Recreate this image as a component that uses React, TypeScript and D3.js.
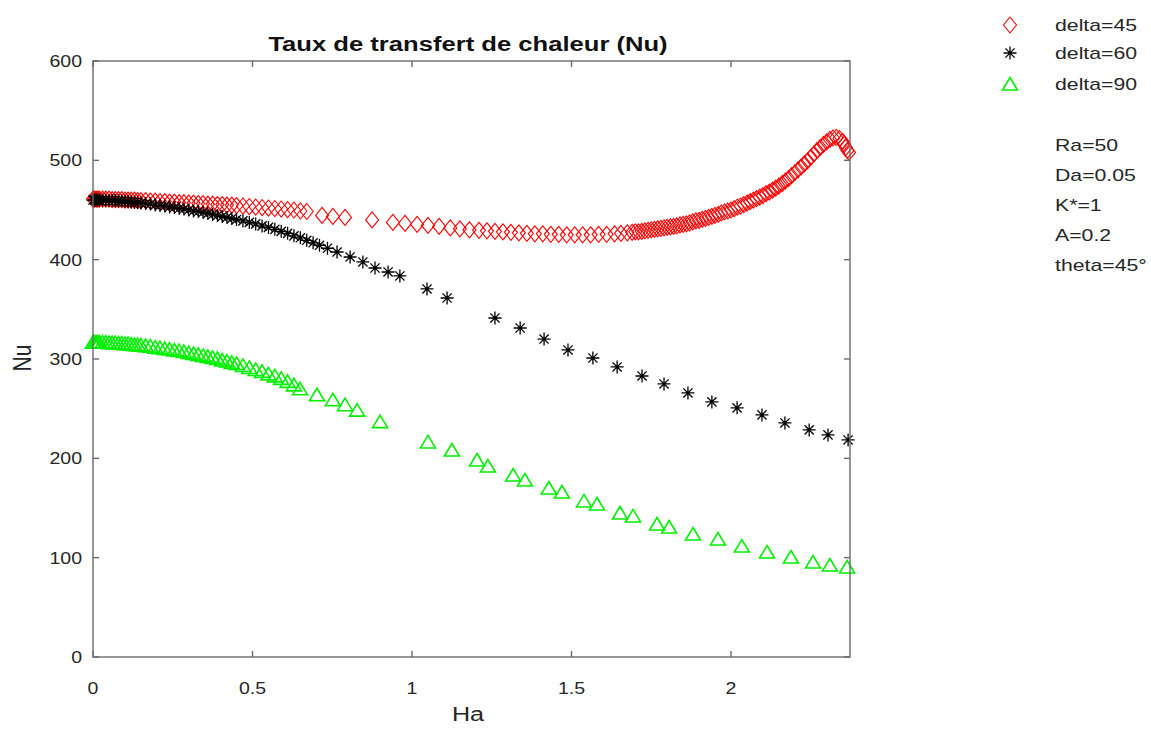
import React from "react";
import * as d3 from "d3";

// Nusselt number vs Hartmann number, three inclination angles
const delta45: [number, number][] = [
  [0, 461], [0.005, 461], [0.01, 461], [0.015, 461], [0.02, 461], [0.03, 461], [0.04, 461],
  [0.05, 461], [0.06, 460.5], [0.07, 460.5], [0.08, 460.5], [0.09, 460.5], [0.1, 460], [0.11, 460],
  [0.12, 460], [0.13, 460], [0.14, 459.5], [0.15, 459.5], [0.165, 459.5], [0.18, 459], [0.195, 459],
  [0.21, 458.5], [0.225, 458.5], [0.24, 458], [0.255, 458], [0.27, 457.5], [0.285, 457.5], [0.3, 457],
  [0.315, 457], [0.33, 456.5], [0.345, 456.5], [0.36, 456], [0.375, 456], [0.39, 455.5], [0.405, 455.5],
  [0.42, 455], [0.435, 455], [0.45, 454.5], [0.47, 454], [0.49, 453.5], [0.51, 453], [0.53, 452.5],
  [0.55, 452], [0.57, 451.5], [0.59, 451], [0.61, 450.5], [0.63, 450], [0.65, 449], [0.67, 448.5],
  [0.718, 444.5], [0.752, 443.5], [0.79, 442.5], [0.875, 440], [0.94, 437.5], [0.978, 436.5],
  [1.016, 435.5], [1.05, 434.5], [1.085, 433.5], [1.12, 432], [1.15, 431], [1.18, 430], [1.21, 429.5],
  [1.235, 429], [1.26, 428.5], [1.285, 428], [1.31, 427.5], [1.335, 427], [1.36, 426.5], [1.385, 426],
  [1.41, 426], [1.435, 425.5], [1.46, 425.5], [1.485, 425], [1.51, 425], [1.535, 425], [1.56, 425],
  [1.585, 425.5], [1.61, 425.5], [1.635, 426], [1.655, 426.5], [1.675, 427], [1.69, 427.5], [1.7, 428],
  [1.71, 428], [1.72, 428.5], [1.73, 429], [1.74, 429.5], [1.75, 430], [1.76, 430.5], [1.77, 431],
  [1.78, 431.5], [1.79, 432], [1.8, 432.5], [1.81, 433], [1.82, 433.5], [1.83, 434], [1.84, 435],
  [1.85, 435.5], [1.86, 436], [1.87, 437], [1.88, 438], [1.89, 439], [1.9, 439.5], [1.91, 440.5],
  [1.92, 441.5], [1.93, 442.5], [1.94, 443.5], [1.95, 444.5], [1.96, 445.5], [1.97, 447], [1.98, 448],
  [1.99, 449], [2.0, 450], [2.01, 451.5], [2.02, 453], [2.03, 454], [2.04, 455.5], [2.05, 457],
  [2.06, 458.5], [2.07, 460], [2.08, 461.5], [2.09, 463], [2.1, 464.5], [2.11, 466.5], [2.12, 468],
  [2.13, 470], [2.14, 472], [2.15, 474], [2.16, 476.5], [2.17, 479], [2.18, 481.5], [2.19, 484.5],
  [2.2, 487.5], [2.21, 490.5], [2.22, 493.5], [2.23, 496.5], [2.24, 499.5], [2.25, 503], [2.26, 506.5],
  [2.27, 510], [2.28, 513], [2.29, 516], [2.3, 518.5], [2.31, 521], [2.32, 522.5], [2.33, 523],
  [2.34, 522], [2.35, 519], [2.355, 516], [2.36, 513], [2.365, 510], [2.37, 508],
];

const delta60: [number, number][] = [
  [0, 460], [0.005, 460], [0.01, 460], [0.015, 460], [0.02, 460], [0.03, 460], [0.04, 460],
  [0.05, 459.5], [0.06, 459.5], [0.07, 459.5], [0.08, 459], [0.09, 459], [0.1, 458.5], [0.11, 458.5],
  [0.12, 458], [0.13, 457.5], [0.14, 457.5], [0.15, 457], [0.165, 456.5], [0.18, 456], [0.195, 455],
  [0.21, 454.5], [0.225, 454], [0.24, 453], [0.255, 452.5], [0.27, 451.5], [0.285, 451], [0.3, 450],
  [0.315, 449], [0.33, 448.5], [0.345, 447.5], [0.36, 446.5], [0.375, 445.5], [0.39, 444.5],
  [0.405, 443.5], [0.42, 442.5], [0.435, 441.5], [0.45, 440.5], [0.47, 439], [0.49, 437.5], [0.51, 436],
  [0.53, 434], [0.55, 432.5], [0.57, 430.5], [0.59, 428.5], [0.61, 426.5], [0.63, 424], [0.65, 422],
  [0.67, 419.5], [0.69, 417], [0.71, 414.5], [0.735, 411.5], [0.765, 407.7], [0.806, 402.7],
  [0.846, 397.7], [0.884, 391.6], [0.925, 387.6], [0.962, 383.6], [1.047, 370.5], [1.11, 361.4],
  [1.26, 341.3], [1.339, 331.2], [1.414, 320.1], [1.489, 309.1], [1.567, 301], [1.643, 292],
  [1.721, 282.9], [1.79, 274.9], [1.865, 265.8], [1.94, 256.8], [2.019, 250.8], [2.097, 243.7],
  [2.169, 235.6], [2.245, 228.6], [2.304, 223.6], [2.367, 218.5],
];

const delta90: [number, number][] = [
  [0, 317], [0.005, 317], [0.01, 317], [0.015, 317], [0.02, 317], [0.03, 317], [0.04, 317],
  [0.05, 316.5], [0.06, 316.5], [0.07, 316.5], [0.08, 316], [0.09, 316], [0.1, 315.5], [0.11, 315.5],
  [0.12, 315], [0.13, 314.5], [0.14, 314.5], [0.15, 314], [0.165, 313.5], [0.18, 313], [0.195, 312],
  [0.21, 311.5], [0.225, 310.5], [0.24, 310], [0.255, 309], [0.27, 308.5], [0.285, 307.5], [0.3, 306.5],
  [0.315, 305.5], [0.33, 304.5], [0.345, 303.5], [0.36, 302.5], [0.375, 301.5], [0.39, 300.5],
  [0.405, 299], [0.42, 298], [0.435, 296.5], [0.45, 295.5], [0.47, 293.5], [0.49, 291.5], [0.51, 289.5],
  [0.53, 287.5], [0.55, 285], [0.57, 283], [0.59, 280.5], [0.61, 277.5], [0.63, 274], [0.649, 270],
  [0.702, 264], [0.752, 259], [0.79, 254], [0.828, 248.5], [0.9, 237], [1.05, 216.5], [1.125, 208.4],
  [1.204, 198.3], [1.238, 192.3], [1.317, 183.2], [1.354, 178.2], [1.429, 170.1], [1.47, 166.1],
  [1.539, 157.1], [1.58, 154], [1.652, 145], [1.693, 142], [1.768, 133.9], [1.806, 130.9],
  [1.881, 123.8], [1.959, 118.8], [2.034, 111.7], [2.113, 105.7], [2.188, 100.7], [2.257, 95.6],
  [2.31, 92.6], [2.364, 90.6],
];

const xTicks = [0, 0.5, 1, 1.5, 2];
const xTickLabels = ["0", "0.5", "1", "1.5", "2"];
const yTicks = [0, 100, 200, 300, 400, 500, 600];
const legendLabels = ["delta=45", "delta=60", "delta=90"];
const paramLabels = ["Ra=50", "Da=0.05", "K*=1", "A=0.2", "theta=45°"];

const W = 1151;
const H = 730;
const plot = { left: 93, right: 850, top: 61, bottom: 657 };
const FONT = "'Liberation Sans', Arial, sans-serif";
const TXT = "#262626";
const AXIS = "#6b6b6b";
const RED = "#ff0000";
const BLACK = "#000000";
const GREEN = "#00f000";

const x = d3.scaleLinear().domain([0, 2.373]).range([plot.left, plot.right]);
const y = d3.scaleLinear().domain([0, 600]).range([plot.bottom, plot.top]);

const diamondPath = "M0,-8L6.5,0L0,8L-6.5,0Z";
const trianglePath = "M0,-6.5L7.5,6L-7.5,6Z";
const starPath = (() => {
  const r = 6.5;
  const d = r * Math.SQRT1_2;
  return `M0,${-r}V${r}M${-r},0H${r}M${-d},${-d}L${d},${d}M${-d},${d}L${d},${-d}`;
})();

type TextProps = {
  x: number;
  y: number;
  size: number;
  sx?: number;
  anchor?: "start" | "middle" | "end";
  weight?: string;
  rotate?: number;
  fill?: string;
  children: React.ReactNode;
};

// text with a slight horizontal stretch
function SText({ x, y, size, sx = 1.15, anchor = "start", weight = "normal", rotate = 0, fill = TXT, children }: TextProps) {
  return (
    <text
      transform={`translate(${x},${y}) scale(${sx},1)${rotate ? ` rotate(${rotate})` : ""}`}
      textAnchor={anchor}
      dominantBaseline="central"
      fontFamily={FONT}
      fontSize={size}
      fontWeight={weight}
      fill={fill}
    >
      {children}
    </text>
  );
}

function Markers({ data, path, stroke, width }: { data: [number, number][]; path: string; stroke: string; width: number }) {
  return (
    <g fill="none" stroke={stroke} strokeWidth={width}>
      {data.map(([ha, nu], i) => (
        <path key={i} d={path} transform={`translate(${x(ha)},${y(nu)})`} />
      ))}
    </g>
  );
}

export default function App() {
  const tickLen = 6;
  const legendRows = [
    { label: legendLabels[0], path: diamondPath, stroke: RED, width: 1.1, yy: 25 },
    { label: legendLabels[1], path: starPath, stroke: BLACK, width: 1.3, yy: 53 },
    { label: legendLabels[2], path: trianglePath, stroke: GREEN, width: 1.6, yy: 84 },
  ];
  return (
    <svg width={W} height={H} style={{ position: "absolute", left: 0, top: 0, background: "#fff" }}>
      <rect x={0} y={0} width={W} height={H} fill="#fff" />

      {/* data */}
      <Markers data={delta45} path={diamondPath} stroke={RED} width={1.1} />
      <Markers data={delta60} path={starPath} stroke={BLACK} width={1.3} />
      <Markers data={delta90} path={trianglePath} stroke={GREEN} width={1.6} />

      {/* axes box and ticks */}
      <g stroke={AXIS} strokeWidth={1.4} fill="none">
        <rect x={plot.left} y={plot.top} width={plot.right - plot.left} height={plot.bottom - plot.top} />
        {xTicks.map((t) => (
          <g key={t}>
            <line x1={x(t)} x2={x(t)} y1={plot.bottom} y2={plot.bottom - tickLen} />
            <line x1={x(t)} x2={x(t)} y1={plot.top} y2={plot.top + tickLen} />
          </g>
        ))}
        {yTicks.map((t) => (
          <g key={t}>
            <line x1={plot.left} x2={plot.left + tickLen} y1={y(t)} y2={y(t)} />
            <line x1={plot.right} x2={plot.right - tickLen} y1={y(t)} y2={y(t)} />
          </g>
        ))}
      </g>

      {/* tick labels */}
      {xTicks.map((t, i) => (
        <SText key={t} x={x(t)} y={688} size={17} anchor="middle">
          {xTickLabels[i]}
        </SText>
      ))}
      {yTicks.map((t) => (
        <SText key={t} x={82} y={y(t)} size={17} anchor="end">
          {String(t)}
        </SText>
      ))}

      {/* titles */}
      <SText x={468} y={44} size={21} sx={1.22} anchor="middle" weight="bold" fill="#111">
        Taux de transfert de chaleur (Nu)
      </SText>
      <SText x={468} y={714} size={21} sx={1.2} anchor="middle">
        Ha
      </SText>
      <SText x={22} y={358} size={21} sx={1.2} anchor="middle" rotate={-90}>
        Nu
      </SText>

      {/* legend */}
      {legendRows.map((r) => (
        <g key={r.label}>
          <path d={r.path} transform={`translate(1010,${r.yy})`} fill="none" stroke={r.stroke} strokeWidth={r.width} />
          <SText x={1055} y={r.yy} size={17} sx={1.25}>
            {r.label}
          </SText>
        </g>
      ))}
      {paramLabels.map((p, i) => (
        <SText key={p} x={1055} y={145 + i * 30} size={17} sx={1.25}>
          {p}
        </SText>
      ))}
    </svg>
  );
}
